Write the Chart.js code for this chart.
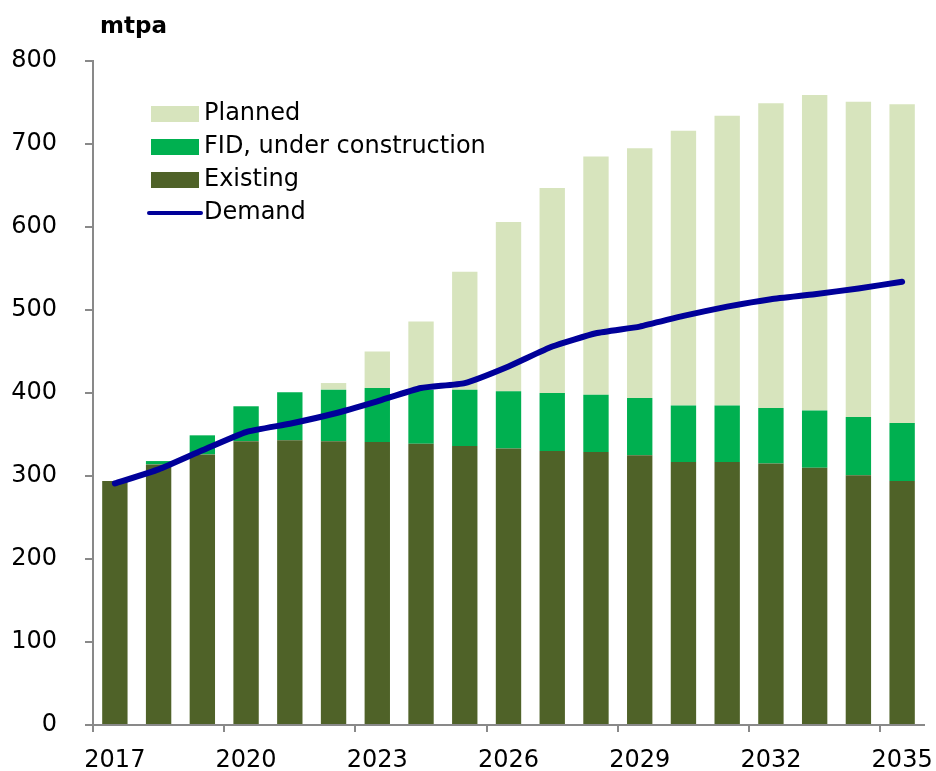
<!DOCTYPE html>
<html>
<head>
<meta charset="utf-8">
<script src="https://cdn.jsdelivr.net/npm/chart.js@4/dist/chart.umd.min.js"></script>
<style>
  html, body { margin: 0; padding: 0; background: #fff; }
  #wrap { width: 936px; height: 771px; position: relative; }
</style>
</head>
<body>
<div id="wrap"><canvas id="grafico"></canvas></div>
<script>
// Datos (mtpa)
const years = ["2017","2018","2019","2020","2021","2022","2023","2024","2025","2026",
               "2027","2028","2029","2030","2031","2032","2033","2034","2035"];
const existing = [294,314,326,342,343,342,341,339,336,333,330,329,325,317,317,315,310,301,294];
const fid      = [0,4,23,42,58,62,65,65,68,69,70,69,69,68,68,67,69,70,70];
const planned  = [0,0,0,0,0,8,44,82,142,204,247,287,301,331,349,367,380,380,384];
const demand   = [291,308,331,353,363,375,390,406,412,432,456,472,480,493,504,513,519,526,534];
const yTicks   = [0,100,200,300,400,500,600,700,800];

const FONT = "DejaVu Sans";
const GRIS = "#898989";

// Leyenda dibujada dentro del área del gráfico
const leyendaPlugin = {
    id: "leyenda",
    afterDraw(chart) {
        const ctx = chart.ctx;
        const items = ["Planned", "FID, under construction", "Existing", "Demand"];
        const x0 = 151, y0 = 114, paso = 33;
        ctx.save();
        ctx.font = "24px '" + FONT + "'";
        ctx.textBaseline = "middle";
        items.forEach((label, i) => {
            const ds = chart.data.datasets.find(d => d.label === label);
            const y = y0 + i * paso;
            if (ds.type === "line") {
                ctx.strokeStyle = ds.borderColor;
                ctx.lineWidth = 4;
                ctx.lineCap = "round";
                ctx.beginPath();
                ctx.moveTo(x0 - 2, y);
                ctx.lineTo(x0 + 50, y);
                ctx.stroke();
            } else {
                ctx.fillStyle = ds.backgroundColor;
                ctx.fillRect(x0, y - 8, 48, 16);
            }
            ctx.fillStyle = "#000";
            ctx.fillText(label, x0 + 53, y);
        });
        // unidad
        ctx.font = "bold 23px '" + FONT + "'";
        ctx.fillText("mtpa", 100, 27);
        ctx.restore();
    }
};

new Chart(document.getElementById("grafico"), {
    type: "bar",
    data: {
        labels: years,
        datasets: [
            {
                type: "line",
                label: "Demand",
                data: demand,
                borderColor: "#000099",
                borderWidth: 6,
                pointRadius: 0,
                tension: 0.15,
                borderCapStyle: "round",
                borderJoinStyle: "round",
                order: 0
            },
            { label: "Existing", data: existing, backgroundColor: "#4f6228", order: 1, stack: "s" },
            { label: "FID, under construction", data: fid, backgroundColor: "#00b050", order: 1, stack: "s" },
            { label: "Planned", data: planned, backgroundColor: "#d7e4bd", order: 1, stack: "s" }
        ]
    },
    options: {
        responsive: true,
        maintainAspectRatio: false,
        animation: false,
        categoryPercentage: 1,
        barPercentage: 0.58,
        layout: { padding: { top: 61, right: 12, left: 0, bottom: 0 } },
        plugins: {
            legend: { display: false },
            tooltip: { enabled: false }
        },
        scales: {
            x: {
                stacked: true,
                offset: true,
                afterFit: s => { s.height = 46; s.paddingLeft = 0; s.paddingRight = 0; },
                border: { color: GRIS, width: 2 },
                grid: {
                    offset: true,
                    drawOnChartArea: false,
                    tickLength: 7,
                    lineWidth: 2,
                    color: c => (c.index % 3 === 0 ? GRIS : "rgba(0,0,0,0)"),
                    tickColor: c => (c.index % 3 === 0 ? GRIS : "rgba(0,0,0,0)")
                },
                ticks: {
                    autoSkip: false,
                    maxRotation: 0,
                    padding: 14,
                    color: "#000",
                    font: { family: FONT, size: 24 },
                    callback: (v, i) => (i % 3 === 0 ? years[i] : "")
                }
            },
            y: {
                stacked: true,
                min: 0,
                max: 800,
                afterFit: s => { s.width = 93; s.paddingTop = 0; s.paddingBottom = 0; },
                afterBuildTicks: s => { s.ticks = yTicks.map(v => ({ value: v })); },
                border: { color: GRIS, width: 2 },
                grid: {
                    drawOnChartArea: false,
                    tickLength: 8,
                    lineWidth: 2,
                    color: GRIS
                },
                ticks: {
                    padding: 28,
                    color: "#000",
                    font: { family: FONT, size: 24 }
                }
            }
        }
    },
    plugins: [leyendaPlugin]
});
</script>
</body>
</html>
